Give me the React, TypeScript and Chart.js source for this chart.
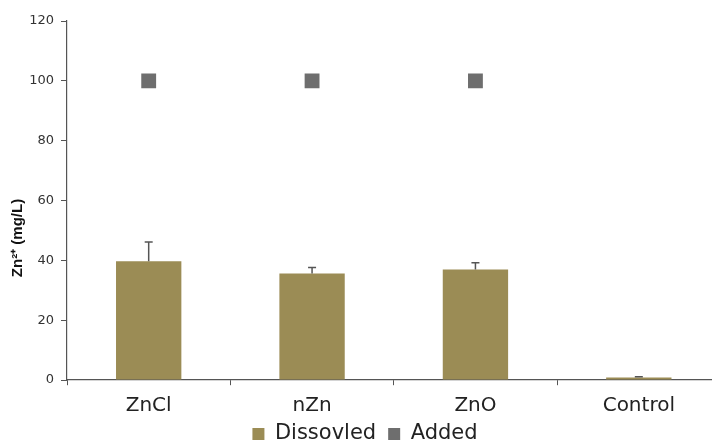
import React, { useEffect, useRef } from "react";
import { Chart, registerables } from "chart.js";

Chart.register(...registerables);

const categories = ["ZnCl", "nZn", "ZnO", "Control"];
const dissolved = [39.7, 35.6, 36.9, 0.8];
const dissolvedErr = [6.4, 2.0, 2.3, 0.3];
const added = [100, 100, 100, null];
const yTicks = [0, 20, 40, 60, 80, 100, 120];

const SANS = "'Liberation Sans', Arial, sans-serif";
const WIDE = "'DejaVu Sans', sans-serif";

const errorBarPlugin = {
  id: "errorBars",
  afterDatasetsDraw(chart: any) {
    const ctx = chart.ctx;
    const meta = chart.getDatasetMeta(0);
    const y = chart.scales.y;
    ctx.save();
    ctx.strokeStyle = "#555555";
    ctx.lineWidth = 1.5;
    meta.data.forEach((bar: any, i: number) => {
      const x = bar.x;
      const top = y.getPixelForValue(dissolved[i] + dissolvedErr[i]);
      const base = y.getPixelForValue(dissolved[i]);
      ctx.beginPath();
      ctx.moveTo(x, base);
      ctx.lineTo(x, top);
      ctx.moveTo(x - 4, top);
      ctx.lineTo(x + 4, top);
      ctx.stroke();
    });
    ctx.restore();
  },
};

export default function App() {
  const ref = useRef<HTMLCanvasElement>(null);
  useEffect(() => {
    document.body.style.margin = "0";
    document.body.style.overflow = "hidden";
    const chart = new Chart(ref.current!, {
      type: "bar",
      data: {
        labels: categories,
        datasets: [
          {
            type: "bar",
            label: "Dissovled",
            data: dissolved,
            backgroundColor: "#9b8c55",
            borderWidth: 0,
            barPercentage: 0.8,
            categoryPercentage: 0.5,
            order: 2,
          },
          {
            type: "line",
            label: "Added",
            data: added as any,
            showLine: false,
            borderWidth: 0,
            pointStyle: "rect",
            pointRadius: 10.5,
            pointBorderWidth: 0,
            backgroundColor: "#6e6e6e",
            borderColor: "#6e6e6e",
            order: 1,
          },
        ],
      },
      options: {
        animation: false,
        responsive: false,
        layout: { padding: { top: 21, right: 1, left: 0, bottom: -10.5 } },
        plugins: {
          tooltip: { enabled: false },
          legend: {
            position: "bottom",
            labels: {
              font: { family: WIDE, size: 21 },
              color: "#222222",
              boxWidth: 12,
              boxHeight: 12,
              padding: 12,
              sort: (a: any, b: any) => a.datasetIndex - b.datasetIndex,
            },
          },
        },
        scales: {
          x: {
            grid: {
              offset: true,
              drawOnChartArea: false,
              tickLength: 20.5,
              tickBorderDash: [5, 200],
              color: "#555555",
            },
            border: { color: "#555555", width: 1.2 },
            ticks: {
              font: { family: WIDE, size: 20, lineHeight: 0.1 },
              color: "#222222",
              padding: 4.5,
            },
          },
          y: {
            min: 0,
            max: 120,
            afterBuildTicks(scale: any) {
              scale.ticks = yTicks.map((v) => ({ value: v }));
            },
            afterFit(scale: any) {
              scale.width = 67;
            },
            grid: {
              drawOnChartArea: false,
              tickLength: 6,
              color: "#555555",
            },
            border: { color: "#555555", width: 1.2 },
            ticks: {
              font: { family: WIDE, size: 13 },
              color: "#333333",
              padding: 7,
            },
            title: {
              display: true,
              text: "Zn²⁺ (mg/L)" + "\u00a0".repeat(18),
              font: { family: SANS, size: 15, weight: "bold" },
              color: "#111111",
              padding: { top: 9, bottom: 0 },
            },
          },
        },
      },
      plugins: [errorBarPlugin],
    });
    return () => chart.destroy();
  }, []);
  return (
    <div style={{ position: "absolute", left: 0, top: 0, width: 731, height: 444 }}>
      <canvas ref={ref} width={731} height={444} />
    </div>
  );
}
